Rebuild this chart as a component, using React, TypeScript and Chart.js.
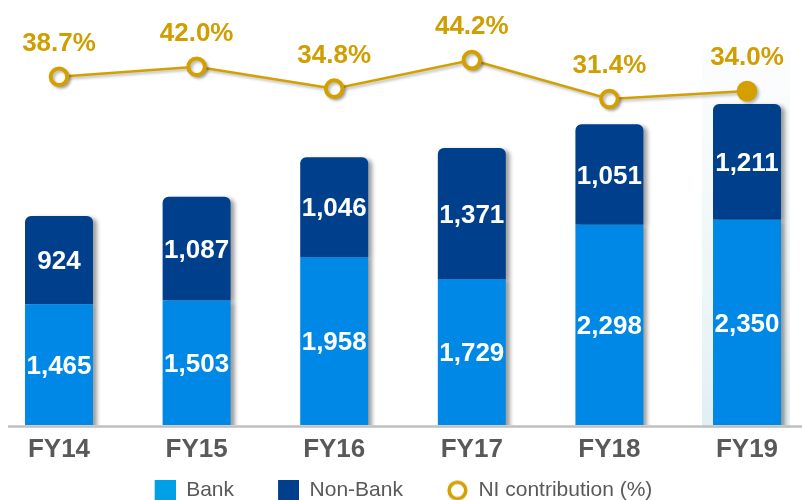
import React, { useEffect, useRef } from "react";
import { Chart, registerables } from "chart.js";

Chart.register(...registerables);

const categories = ["FY14", "FY15", "FY16", "FY17", "FY18", "FY19"];
const bankValues = [1465, 1503, 1958, 1729, 2298, 2350];
const nonBankValues = [924, 1087, 1046, 1371, 1051, 1211];
const niContribution = [38.7, 42.0, 34.8, 44.2, 31.4, 34.0];
const legendLabels = ["Bank", "Non-Bank", "NI contribution (%)"];
const highlightIndex = 5;

const FONT = '"Liberation Sans", Arial, Helvetica, sans-serif';
const BANK_COLOR = "#0088E6";
const BANK_LEGEND = "#00A0E6";
const NONBANK_COLOR = "#003F8C";
const GOLD = "#D4A000";
const GOLD_TEXT = "#D09E00";
const GRAY = "#595959";
const ICON_W = 60;

function makeIcon(draw: (ctx: CanvasRenderingContext2D) => void) {
  const c = document.createElement("canvas");
  c.width = ICON_W;
  c.height = 22;
  const ctx = c.getContext("2d") as CanvasRenderingContext2D;
  draw(ctx);
  return c;
}

const shadowPlugin = {
  id: "shadowPlugin",
  beforeDatasetDraw(chart: any, args: any) {
    const ctx = chart.ctx;
    ctx.save();
    if (args.meta.type === "bar") {
      ctx.shadowColor = "rgba(0,0,0,0.38)";
      ctx.shadowBlur = 4;
      ctx.shadowOffsetX = 4;
      ctx.shadowOffsetY = 2;
    } else {
      ctx.shadowColor = "rgba(0,0,0,0.28)";
      ctx.shadowBlur = 3;
      ctx.shadowOffsetX = 2;
      ctx.shadowOffsetY = 2;
    }
  },
  afterDatasetDraw(chart: any) {
    chart.ctx.restore();
  },
};

const decorPlugin = {
  id: "decorPlugin",
  beforeDatasetsDraw(chart: any) {
    const ctx = chart.ctx;
    const xs = chart.scales.x;
    const area = chart.chartArea;
    const cx = xs.getPixelForValue(highlightIndex);
    const top = area.top + 30;
    ctx.save();
    const g = ctx.createLinearGradient(0, top, 0, area.bottom);
    g.addColorStop(0, "rgba(236,244,246,0.2)");
    g.addColorStop(1, "rgba(226,240,243,1)");
    ctx.fillStyle = g;
    ctx.fillRect(cx - 45, top, 88, area.bottom + 3 - top);
    ctx.strokeStyle = "#BFBFBF";
    ctx.lineWidth = 2.5;
    ctx.beginPath();
    ctx.moveTo(8, area.bottom + 1.5);
    ctx.lineTo(chart.width, area.bottom + 1.5);
    ctx.stroke();
    ctx.restore();
  },
};

const labelPlugin = {
  id: "labelPlugin",
  afterDatasetsDraw(chart: any) {
    const ctx = chart.ctx;
    ctx.save();
    ctx.textAlign = "center";
    ctx.textBaseline = "middle";
    chart.data.datasets.forEach((ds: any, di: number) => {
      const meta = chart.getDatasetMeta(di);
      meta.data.forEach((el: any, i: number) => {
        const v = ds.data[i];
        if (meta.type === "bar") {
          const p = el.getProps(["x", "y", "base"], true);
          const base = Math.min(p.base, chart.chartArea.bottom);
          ctx.font = `bold 26px ${FONT}`;
          ctx.fillStyle = "#FFFFFF";
          ctx.fillText(v.toLocaleString("en-US"), p.x, (p.y + base) / 2 + 2);
        } else {
          const p = el.getProps(["x", "y"], true);
          ctx.font = `bold 26px ${FONT}`;
          ctx.fillStyle = GOLD_TEXT;
          ctx.fillText(v.toFixed(1) + "%", p.x, p.y - 33);
        }
      });
    });
    ctx.restore();
  },
};

export default function App() {
  const ref = useRef<HTMLCanvasElement | null>(null);

  useEffect(() => {
    if (!ref.current) return;
    const bankIcon = makeIcon((c) => {
      c.fillStyle = BANK_LEGEND;
      c.fillRect(ICON_W - 21, 0, 21, 21);
    });
    const nonBankIcon = makeIcon((c) => {
      c.fillStyle = NONBANK_COLOR;
      c.fillRect(ICON_W - 21, 0, 21, 21);
    });
    const lineIcon = makeIcon((c) => {
      c.beginPath();
      c.arc(ICON_W - 10.5, 11, 8.3, 0, Math.PI * 2);
      c.fillStyle = "#FFFFFF";
      c.fill();
      c.lineWidth = 3.6;
      c.strokeStyle = GOLD;
      c.stroke();
    });
    const icons = [bankIcon, nonBankIcon, lineIcon];
    const legendFills = [BANK_LEGEND, NONBANK_COLOR, "#FFFFFF"];
    const barClip = { left: false, right: false, top: false, bottom: 0 };
    const isHi = (i: number) => i === highlightIndex;

    const chart = new Chart(ref.current, {
      type: "bar",
      data: {
        labels: categories,
        datasets: [
          {
            type: "line",
            label: legendLabels[2],
            data: niContribution,
            yAxisID: "y2",
            borderColor: GOLD,
            borderWidth: 2.5,
            pointRadius: niContribution.map((_, i) => (isHi(i) ? 10.3 : 8.3)),
            pointBorderWidth: niContribution.map((_, i) => (isHi(i) ? 0 : 4)),
            pointBorderColor: GOLD,
            pointBackgroundColor: niContribution.map((_, i) => (isHi(i) ? GOLD : "#FFFFFF")),
            fill: false,
            tension: 0,
            order: 0,
            clip: false,
          } as any,
          {
            type: "bar",
            label: legendLabels[0],
            data: bankValues,
            backgroundColor: BANK_COLOR,
            yAxisID: "y",
            stack: "s",
            order: 1,
            barPercentage: 0.494,
            categoryPercentage: 1,
            borderRadius: 0,
            clip: barClip,
          } as any,
          {
            type: "bar",
            label: legendLabels[1],
            data: nonBankValues,
            backgroundColor: NONBANK_COLOR,
            yAxisID: "y",
            stack: "s",
            order: 1,
            barPercentage: 0.494,
            categoryPercentage: 1,
            borderRadius: { topLeft: 6, topRight: 6, bottomLeft: 0, bottomRight: 0 },
            borderSkipped: "start",
            clip: barClip,
          } as any,
        ],
      },
      options: {
        responsive: true,
        maintainAspectRatio: false,
        animation: false,
        layout: { padding: { left: 0, right: 34, top: 20, bottom: 0 } },
        scales: {
          x: {
            stacked: true,
            offset: false,
            grid: { display: false, drawTicks: false },
            border: { display: false },
            ticks: {
              color: GRAY,
              font: { family: FONT, size: 26, weight: "bold", lineHeight: 1 },
              padding: 12,
              maxRotation: 0,
              autoSkip: false,
            },
            afterFit: (s: any) => {
              s.paddingLeft = 59;
              s.paddingRight = 55;
            },
          },
          y: {
            stacked: true,
            display: false,
            min: 200,
            max: 4441,
          },
          y2: {
            display: false,
            min: -75.9,
            max: 57.4,
          },
        },
        plugins: {
          tooltip: { enabled: false },
          legend: {
            display: true,
            position: "bottom",
            maxHeight: 25,
            labels: {
              usePointStyle: true,
              pointStyleWidth: ICON_W,
              padding: 5,
              boxWidth: ICON_W,
              boxHeight: 21,
              color: GRAY,
              font: { family: FONT, size: 21 },
              generateLabels: () =>
                [0, 1, 2].map((k) => ({
                  text: legendLabels[k],
                  pointStyle: icons[k] as any,
                  fillStyle: legendFills[k],
                  strokeStyle: "transparent",
                  lineWidth: 0,
                  hidden: false,
                  fontColor: GRAY,
                  datasetIndex: k === 2 ? 0 : k + 1,
                })),
            },
          },
        },
      },
      plugins: [decorPlugin, shadowPlugin, labelPlugin],
    } as any);

    return () => chart.destroy();
  }, []);

  return (
    <div
      style={{
        position: "absolute",
        left: 0,
        top: 0,
        width: 802,
        height: 500,
        background: "#FFFFFF",
      }}
    >
      <canvas ref={ref} />
    </div>
  );
}
